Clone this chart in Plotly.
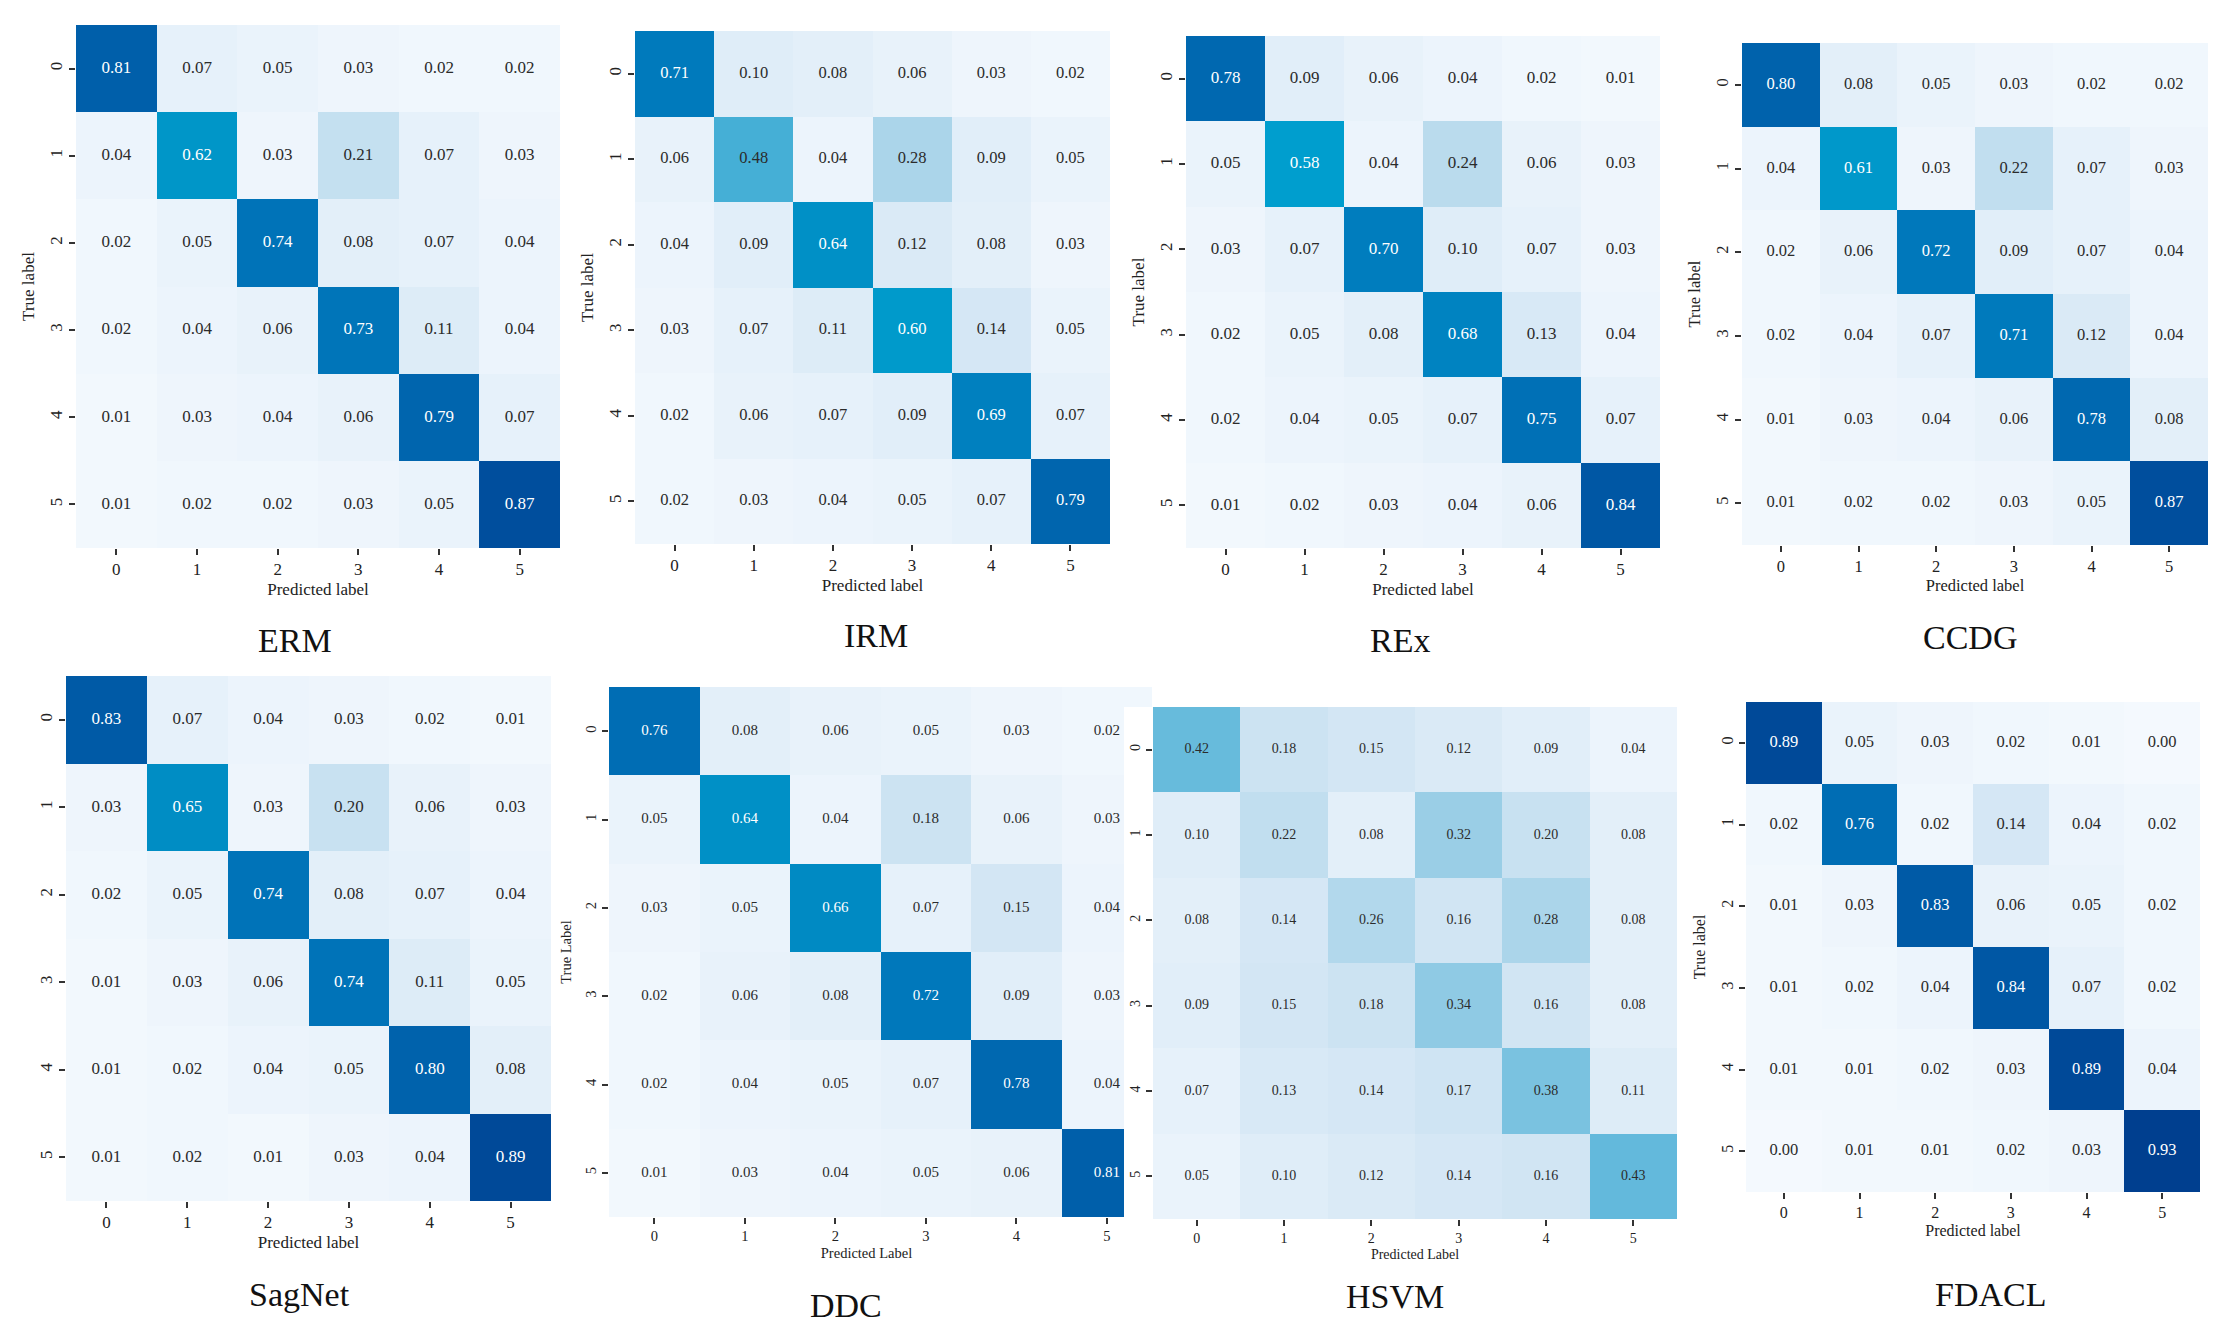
import numpy as np
import plotly.graph_objects as go

# confusion matrices (rows = true label, cols = predicted label)
classes = ["0", "1", "2", "3", "4", "5"]
methods = ["ERM", "IRM", "REx", "CCDG", "SagNet", "DDC", "HSVM", "FDACL"]

erm = [[0.81, 0.07, 0.05, 0.03, 0.02, 0.02],
       [0.04, 0.62, 0.03, 0.21, 0.07, 0.03],
       [0.02, 0.05, 0.74, 0.08, 0.07, 0.04],
       [0.02, 0.04, 0.06, 0.73, 0.11, 0.04],
       [0.01, 0.03, 0.04, 0.06, 0.79, 0.07],
       [0.01, 0.02, 0.02, 0.03, 0.05, 0.87]]
irm = [[0.71, 0.10, 0.08, 0.06, 0.03, 0.02],
       [0.06, 0.48, 0.04, 0.28, 0.09, 0.05],
       [0.04, 0.09, 0.64, 0.12, 0.08, 0.03],
       [0.03, 0.07, 0.11, 0.60, 0.14, 0.05],
       [0.02, 0.06, 0.07, 0.09, 0.69, 0.07],
       [0.02, 0.03, 0.04, 0.05, 0.07, 0.79]]
rex = [[0.78, 0.09, 0.06, 0.04, 0.02, 0.01],
       [0.05, 0.58, 0.04, 0.24, 0.06, 0.03],
       [0.03, 0.07, 0.70, 0.10, 0.07, 0.03],
       [0.02, 0.05, 0.08, 0.68, 0.13, 0.04],
       [0.02, 0.04, 0.05, 0.07, 0.75, 0.07],
       [0.01, 0.02, 0.03, 0.04, 0.06, 0.84]]
ccdg = [[0.80, 0.08, 0.05, 0.03, 0.02, 0.02],
        [0.04, 0.61, 0.03, 0.22, 0.07, 0.03],
        [0.02, 0.06, 0.72, 0.09, 0.07, 0.04],
        [0.02, 0.04, 0.07, 0.71, 0.12, 0.04],
        [0.01, 0.03, 0.04, 0.06, 0.78, 0.08],
        [0.01, 0.02, 0.02, 0.03, 0.05, 0.87]]
sagnet = [[0.83, 0.07, 0.04, 0.03, 0.02, 0.01],
          [0.03, 0.65, 0.03, 0.20, 0.06, 0.03],
          [0.02, 0.05, 0.74, 0.08, 0.07, 0.04],
          [0.01, 0.03, 0.06, 0.74, 0.11, 0.05],
          [0.01, 0.02, 0.04, 0.05, 0.80, 0.08],
          [0.01, 0.02, 0.01, 0.03, 0.04, 0.89]]
ddc = [[0.76, 0.08, 0.06, 0.05, 0.03, 0.02],
       [0.05, 0.64, 0.04, 0.18, 0.06, 0.03],
       [0.03, 0.05, 0.66, 0.07, 0.15, 0.04],
       [0.02, 0.06, 0.08, 0.72, 0.09, 0.03],
       [0.02, 0.04, 0.05, 0.07, 0.78, 0.04],
       [0.01, 0.03, 0.04, 0.05, 0.06, 0.81]]
hsvm = [[0.42, 0.18, 0.15, 0.12, 0.09, 0.04],
        [0.10, 0.22, 0.08, 0.32, 0.20, 0.08],
        [0.08, 0.14, 0.26, 0.16, 0.28, 0.08],
        [0.09, 0.15, 0.18, 0.34, 0.16, 0.08],
        [0.07, 0.13, 0.14, 0.17, 0.38, 0.11],
        [0.05, 0.10, 0.12, 0.14, 0.16, 0.43]]
fdacl = [[0.89, 0.05, 0.03, 0.02, 0.01, 0.00],
         [0.02, 0.76, 0.02, 0.14, 0.04, 0.02],
         [0.01, 0.03, 0.83, 0.06, 0.05, 0.02],
         [0.01, 0.02, 0.04, 0.84, 0.07, 0.02],
         [0.01, 0.01, 0.02, 0.03, 0.89, 0.04],
         [0.00, 0.01, 0.01, 0.02, 0.03, 0.93]]

matrices = [erm, irm, rex, ccdg, sagnet, ddc, hsvm, fdacl]
xlabels = ["Predicted label"] * 5 + ["Predicted Label", "Predicted Label", "Predicted label"]
ylabels = ["True label"] * 4 + ["", "True Label", "", "True label"]

# ---- layout (pixels in a 2232 x 1343 canvas) ----
W, H = 2232, 1343
OFF = 8  # page body margin
FONT = "Liberation Serif"
# heatmap box x0, x1, y0, y1 / title centre / font sizes (cell, labels)
boxes = [
    (76, 560, 25, 548, 295, 640, 17, 17),
    (635, 1110, 31, 544, 876, 635, 16.5, 17),
    (1186, 1660, 36, 548, 1400, 640, 17, 17),
    (1742, 2208, 43, 545, 1970, 637, 16.5, 16.5),
    (66, 551, 676, 1201, 299, 1294, 17, 17),
    (609, 1152, 687, 1217, 846, 1305, 15, 14.5),
    (1153, 1677, 707, 1219, 1395, 1296, 14, 14),
    (1746, 2200, 702, 1192, 1990, 1294, 16.5, 16),
]
DDC_CUT = 1124  # HSVM panel's white background starts here and hides DDC's last column

blues = [
    [0.00, "rgb(244,249,254)"], [0.05, "rgb(234,243,251)"],
    [0.10, "rgb(223,237,248)"], [0.15, "rgb(211,230,244)"],
    [0.20, "rgb(200,225,241)"], [0.30, "rgb(164,210,232)"],
    [0.40, "rgb(112,190,222)"], [0.45, "rgb(90,182,218)"],
    [0.50, "rgb(55,170,212)"], [0.58, "rgb(0,158,206)"],
    [0.62, "rgb(0,150,200)"], [0.66, "rgb(0,138,195)"],
    [0.70, "rgb(0,125,190)"], [0.75, "rgb(0,112,182)"],
    [0.80, "rgb(0,98,172)"], [0.85, "rgb(0,84,162)"],
    [0.90, "rgb(0,70,150)"], [0.95, "rgb(0,58,138)"],
    [1.00, "rgb(0,50,125)"],
]


def fx(v):
    return (v - OFF) / W


def fy(v):
    return 1 - (v - OFF) / H


fig = go.Figure()
layout = {}
annotations = []
idx = list(range(len(classes)))
cols, rows = np.meshgrid(idx, idx)

for i, (name, z) in enumerate(zip(methods, matrices)):
    n = i + 1
    sfx = "" if n == 1 else str(n)
    x0, x1, y0, y1, tx, ty, fcell, flab = boxes[i]
    z = np.array(z)
    xmax = 5.5
    if name == "DDC":
        cw = (x1 - x0) / 6
        xmax = -0.5 + (DDC_CUT - x0) / cw
        x1 = DDC_CUT

    fig.add_trace(go.Heatmap(
        z=z, x=idx, y=idx, zmin=0, zmax=1, colorscale=blues,
        showscale=False, xaxis="x" + sfx, yaxis="y" + sfx, hoverinfo="z"))
    fig.add_trace(go.Scatter(
        x=cols.ravel(), y=rows.ravel(), mode="text",
        text=[f"{v:.2f}" for v in z.ravel()],
        textfont=dict(family=FONT, size=fcell,
                      color=["white" if v >= 0.5 else "#2b2b2b" for v in z.ravel()]),
        xaxis="x" + sfx, yaxis="y" + sfx, hoverinfo="skip", showlegend=False))

    tick = dict(ticks="outside", ticklen=6, tickwidth=1.5, tickcolor="#333",
                showgrid=False, zeroline=False, showline=False,
                tickvals=idx, ticktext=classes,
                tickfont=dict(family=FONT, size=flab, color="#222"))
    layout["xaxis" + sfx] = dict(
        domain=[fx(x0), fx(x1)], anchor="y" + sfx, range=[-0.5, xmax],
        title=dict(text=xlabels[i], font=dict(family=FONT, size=flab, color="#222"),
                   standoff=4),
        **tick)
    layout["yaxis" + sfx] = dict(
        domain=[fy(y1), fy(y0)], anchor="x" + sfx, range=[5.5, -0.5],
        tickangle=-90,
        title=dict(text=ylabels[i], font=dict(family=FONT, size=flab, color="#222"),
                   standoff=8),
        **tick)
    annotations.append(dict(
        text=name, x=fx(tx), y=fy(ty), xref="paper", yref="paper",
        showarrow=False, xanchor="center", yanchor="middle",
        font=dict(family=FONT, size=34, color="#111")))

# DDC's top row still shows above the HSVM panel's white background
x0, x1, y0, y1 = boxes[5][:4]
cw = (x1 - x0) / 6
ch = (y1 - y0) / 6
n = len(methods) + 1
fig.add_trace(go.Heatmap(
    z=np.array(ddc), x=idx, y=idx, zmin=0, zmax=1, colorscale=blues,
    showscale=False, xaxis=f"x{n}", yaxis=f"y{n}", hoverinfo="z"))
layout[f"xaxis{n}"] = dict(domain=[fx(DDC_CUT), fx(x1)], anchor=f"y{n}",
                           range=[-0.5 + (DDC_CUT - x0) / cw, 5.5], visible=False)
layout[f"yaxis{n}"] = dict(domain=[fy(707), fy(y0)], anchor=f"x{n}",
                           range=[-0.5 + (707 - y0) / ch, -0.5], visible=False)

fig.update_layout(
    width=W, height=H, margin=dict(l=0, r=0, t=0, b=0),
    paper_bgcolor="white", plot_bgcolor="white", showlegend=False,
    annotations=annotations, **layout)

fig.write_html("out.html")
